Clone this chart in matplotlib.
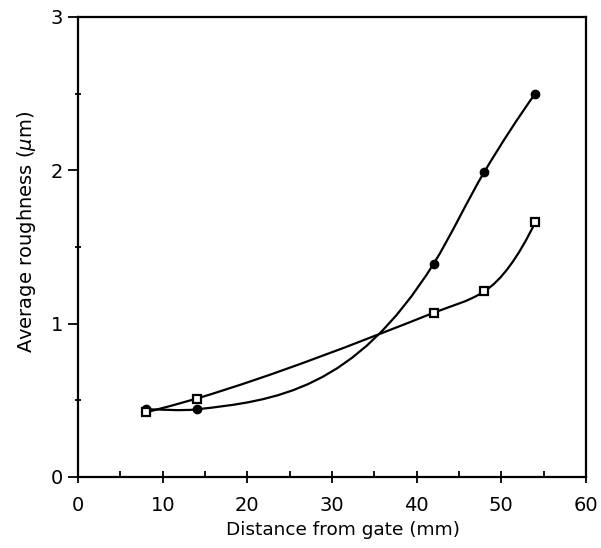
import numpy as np
import matplotlib
matplotlib.use('Agg')
import matplotlib.pyplot as plt
from matplotlib.path import Path
from matplotlib.patches import PathPatch

plt.rcParams['font.family'] = ['DejaVu Sans']
plt.rcParams['mathtext.fontset'] = 'dejavusans'

# distance from gate (mm)
dist = [8, 14, 42, 48, 54]
# average roughness (um), two series
rough_dot = [0.44, 0.44, 1.39, 1.99, 2.50]
rough_sq = [0.42, 0.51, 1.07, 1.21, 1.66]


def smooth_path(x, y, harmonic=False):
    # cubic hermite through the points
    x = np.asarray(x, float)
    y = np.asarray(y, float)
    h = np.diff(x)
    d = np.diff(y) / h
    m = np.zeros_like(y)
    m[0] = d[0]
    for i in range(1, len(x) - 1):
        if harmonic:
            w1 = 2 * h[i] + h[i - 1]
            w2 = h[i] + 2 * h[i - 1]
            m[i] = (w1 + w2) / (w1 / d[i - 1] + w2 / d[i])
        else:
            m[i] = (h[i] * d[i - 1] + h[i - 1] * d[i]) / (h[i - 1] + h[i])
    m[-1] = 2 * d[-1] - m[-2]
    verts = [(x[0], y[0])]
    codes = [Path.MOVETO]
    for i in range(len(x) - 1):
        verts += [(x[i] + h[i] / 3, y[i] + m[i] * h[i] / 3),
                  (x[i + 1] - h[i] / 3, y[i + 1] - m[i + 1] * h[i] / 3),
                  (x[i + 1], y[i + 1])]
        codes += [Path.CURVE4] * 3
    return Path(verts, codes)


fig = plt.figure(figsize=(6.01, 5.48), dpi=100)
ax = fig.add_axes([0.13, 0.13, 0.845, 0.839])

ax.add_patch(PathPatch(smooth_path(dist, rough_dot), fill=False, lw=1.6, color='black', zorder=2))
ax.add_patch(PathPatch(smooth_path(dist, rough_sq, harmonic=True), fill=False, lw=1.6, color='black', zorder=2))
ax.plot(dist, rough_dot, ls='none', marker='o', ms=6, color='black', zorder=3)
ax.plot(dist, rough_sq, ls='none', marker='s', ms=5.5, mfc='white', mec='black', mew=1.6, zorder=3)

ax.set_xlim(0, 60)
ax.set_ylim(0, 3)
ax.set_xticks([0, 10, 20, 30, 40, 50, 60])
ax.set_xticks([5, 15, 25, 35, 45, 55], minor=True)
ax.set_yticks([0, 1, 2, 3])
ax.set_yticks([0.5, 1.5, 2.5], minor=True)
ax.tick_params(axis='x', which='major', direction='inout', length=8, width=1.3, labelsize=14, pad=10)
ax.tick_params(axis='x', which='minor', direction='in', length=4, width=1.3)
ax.tick_params(axis='y', which='major', direction='out', length=7, width=1.3, labelsize=14, pad=4)
ax.tick_params(axis='y', which='minor', direction='inout', length=4, width=1.3)
for s in ax.spines.values():
    s.set_linewidth(1.6)

ax.set_xlabel('Distance from gate (mm)', fontsize=13.3)
ax.set_ylabel(r'Average roughness ($\mu$m)', fontsize=14)
ax.xaxis.set_label_coords(0.521, -0.097)
ax.yaxis.set_label_coords(-0.08, 0.533)

plt.savefig('out.png', dpi=100)
